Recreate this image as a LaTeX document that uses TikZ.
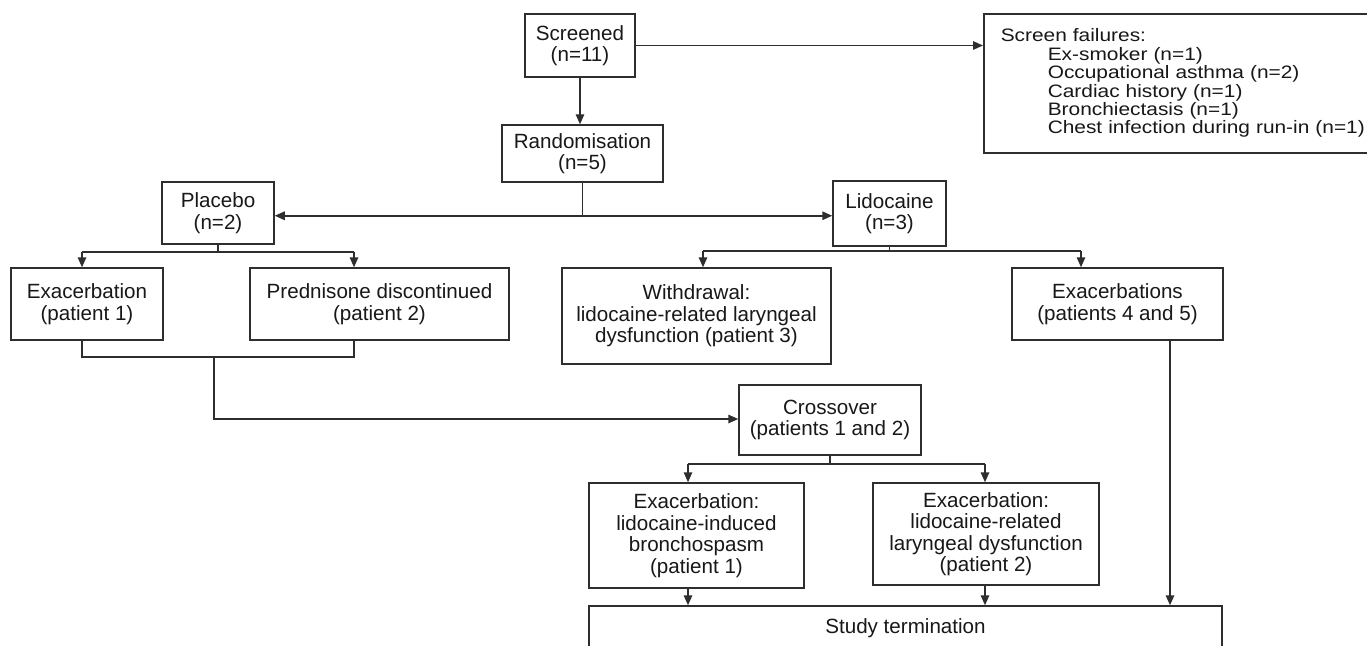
\documentclass[tikz,border=0pt]{standalone}
\usepackage{fontspec}
\setmainfont{Liberation Sans}
\newfontfamily\failfont[FakeStretch=1.16]{Liberation Sans}
\usetikzlibrary{arrows.meta}
\definecolor{ink}{HTML}{1A1718}
\definecolor{linec}{HTML}{2E2E2E}
\begin{document}
\begin{tikzpicture}[x=1pt,y=-1pt,
  box/.style={draw=linec, line width=1.5pt, text=ink, align=center, inner sep=0pt,
    font=\fontsize{20.6}{21.5}\selectfont},
  conn/.style={draw=linec, line width=1.5pt},
  arr/.style={conn, -{Triangle[length=10pt,width=8.5pt]}}]
\useasboundingbox (0,0) rectangle (1367,645);
\fill[white] (0,0) rectangle (1367,645);

\node[box, minimum width=110pt, minimum height=63pt] (scr) at (580,45.5) {Screened\\(n=11)};
\node[box, minimum width=161pt, minimum height=57pt] (rand) at (582.5,153.5) {Randomisation\\(n=5)};
\node[box, minimum width=112pt, minimum height=62pt] (plac) at (218,213) {Placebo\\(n=2)};
\node[box, minimum width=113pt, minimum height=65pt] (lido) at (889.5,213.5) {Lidocaine\\(n=3)};
\node[box, minimum width=152pt, minimum height=72pt] (exa1) at (87,304) {Exacerbation\\(patient 1)};
\node[box, minimum width=259pt, minimum height=72pt] (pred) at (379.5,304) {Prednisone discontinued\\(patient 2)};
\node[box, minimum width=269pt, minimum height=96pt] (wd) at (696.5,316) {Withdrawal:\\lidocaine-related laryngeal\\dysfunction (patient 3)};
\node[box, minimum width=211pt, minimum height=72pt] (exas) at (1117.5,304) {Exacerbations\\(patients 4 and 5)};
\node[box, minimum width=182pt, minimum height=70pt] (cross) at (830,420) {Crossover\\(patients 1 and 2)};
\node[box, minimum width=215pt, minimum height=105pt] (e1) at (696.5,535.5) {Exacerbation:\\lidocaine-induced\\bronchospasm\\(patient 1)};
\node[box, minimum width=226pt, minimum height=102pt] (e2) at (986,534) {Exacerbation:\\lidocaine-related\\laryngeal dysfunction\\(patient 2)};
\node[box, minimum width=633pt, minimum height=44pt] (study) at (905.5,628) {Study termination};

\node[draw=linec, line width=1.5pt, text=ink, anchor=north west, inner xsep=17pt, inner ysep=0pt,
  minimum height=139pt, text width=380pt, align=left,
  font=\failfont\fontsize{18}{18.4}\selectfont] (fail) at (983,13)
  {Screen failures:\\
   \hspace*{47pt}Ex-smoker (n=1)\\
   \hspace*{47pt}Occupational asthma (n=2)\\
   \hspace*{47pt}Cardiac history (n=1)\\
   \hspace*{47pt}Bronchiectasis (n=1)\\
   \hspace*{47pt}Chest infection during run-in (n=1)};

% Screened
\draw[arr] (scr.east) -- (scr.east -| fail.west);
\draw[arr] (scr.south) -- (scr.south |- rand.north);

% Randomisation split
\draw[conn] (rand.south) -- ++(0,33) coordinate (rj);
\draw[arr] (rj) -- (rj -| plac.east);
\draw[arr] (rj) -- (rj -| lido.west);

% Placebo split
\coordinate (pl) at (82,252);
\coordinate (pr) at (354,252);
\draw[conn] (plac.south) -- (plac.south |- pl);
\draw[conn] (pl) -- (pr);
\draw[arr] (pl) -- (pl |- exa1.north);
\draw[arr] (pr) -- (pr |- pred.north);

% Placebo merge to crossover
\coordinate (ml) at (82,357);
\coordinate (mr) at (354,357);
\coordinate (mm) at (214,357);
\coordinate (cy) at (214,419);
\draw[conn] (ml |- exa1.south) -- (ml) -- (mr) -- (mr |- pred.south);
\draw[arr] (mm) -- (cy) -- (cy -| cross.west);

% Lidocaine split
\coordinate (ll) at (703,251);
\coordinate (lr) at (1081,251);
\draw[conn] (lido.south) -- (lido.south |- ll);
\draw[conn] (ll) -- (lr);
\draw[arr] (ll) -- (ll |- wd.north);
\draw[arr] (lr) -- (lr |- exas.north);

% Crossover split
\coordinate (cl) at (688,464);
\coordinate (cr) at (985,464);
\draw[conn] (cross.south) -- (cross.south |- cl);
\draw[conn] (cl) -- (cr);
\draw[arr] (cl) -- (cl |- e1.north);
\draw[arr] (cr) -- (cr |- e2.north);

% To study termination
\coordinate (xs) at (1170,0);
\draw[arr] (cl |- e1.south) -- (cl |- study.north);
\draw[arr] (cr |- e2.south) -- (cr |- study.north);
\draw[arr] (xs |- exas.south) -- (xs |- study.north);
\end{tikzpicture}
\end{document}
